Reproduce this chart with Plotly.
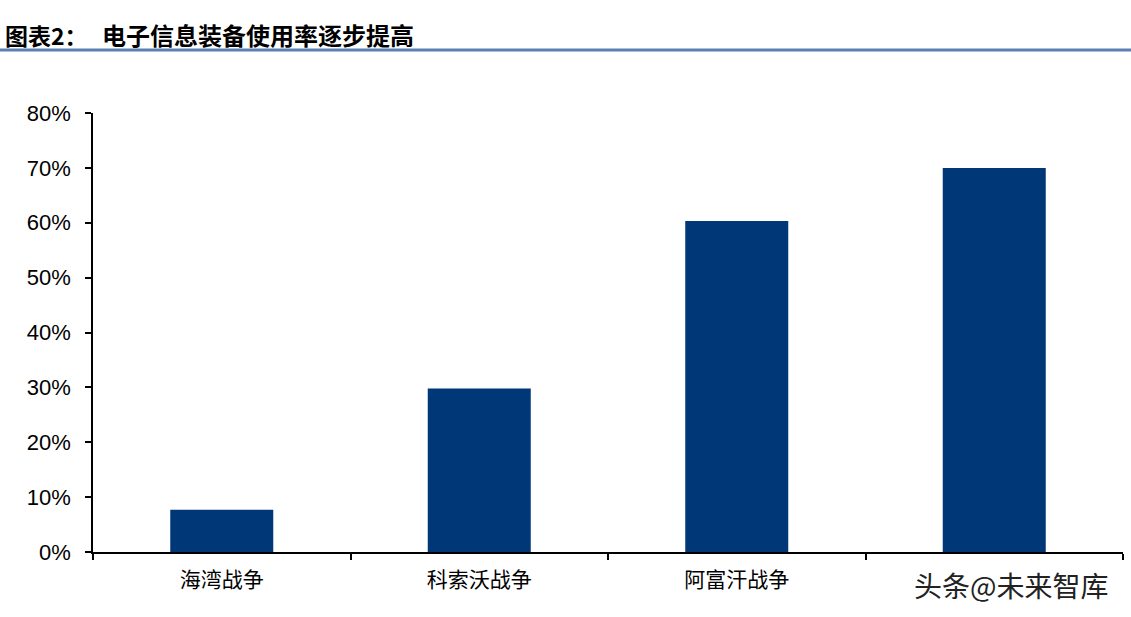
import plotly.graph_objects as go

categories = ["海湾战争", "科索沃战争", "阿富汗战争", "伊拉克战争"]
values = [0.077, 0.298, 0.603, 0.70]
y_ticks = [0, 0.1, 0.2, 0.3, 0.4, 0.5, 0.6, 0.7, 0.8]
y_tick_labels = ["0%", "10%", "20%", "30%", "40%", "50%", "60%", "70%", "80%"]

title_label = "图表2："
title_text = "电子信息装备使用率逐步提高"
watermark = "头条@未来智库"

W, H = 1131, 617
L, R, T, B = 93, 8, 113, 65
PW, PH = W - L - R, H - T - B

fig = go.Figure()
fig.add_trace(go.Bar(
    x=categories, y=values,
    marker=dict(color="#003777", line=dict(width=0)),
    width=0.4,
))

fig.update_layout(
    width=W, height=H,
    margin=dict(l=L, r=R, t=T, b=B, autoexpand=False),
    paper_bgcolor="white", plot_bgcolor="white",
    showlegend=False,
    font=dict(family="Liberation Sans, Arial, sans-serif", color="black"),
)
fig.update_yaxes(
    range=[0, 0.8], tickvals=y_ticks, ticktext=y_tick_labels,
    showgrid=False, zeroline=False,
    showline=True, linecolor="black", linewidth=1.5,
    ticks="outside", ticklen=6, tickcolor="black", tickwidth=1.5,
    tickfont=dict(size=22, family="Liberation Sans, Arial, sans-serif"),
    ticklabelstandoff=10,
)
fig.update_xaxes(
    type="category", tickson="boundaries",
    showgrid=False, zeroline=False,
    showline=True, linecolor="black", linewidth=1.5,
    ticks="outside", ticklen=6, tickcolor="black", tickwidth=1.5,
    tickfont=dict(size=21, family="Noto Sans CJK SC"),
    ticklabelstandoff=8,
    range=[-0.5, 3.5],
)

def px_x(x):
    return (x - L) / PW

def px_y(y):
    return (H - B - y) / PH

fig.add_annotation(
    text="<b>" + title_label + "</b>", xref="paper", yref="paper",
    x=px_x(3), y=px_y(35), xanchor="left", yanchor="middle",
    showarrow=False, font=dict(size=23, family="Noto Sans CJK SC", color="black"),
)
fig.add_annotation(
    text="<b>" + title_text + "</b>", xref="paper", yref="paper",
    x=px_x(100), y=px_y(35), xanchor="left", yanchor="middle",
    showarrow=False, font=dict(size=24, family="Noto Sans CJK SC", color="black"),
)
fig.add_shape(
    type="line", xref="paper", yref="paper",
    x0=px_x(0), x1=px_x(W), y0=px_y(50), y1=px_y(50),
    line=dict(color="#5b7fb3", width=3),
)
fig.add_annotation(
    text=watermark, xref="paper", yref="paper",
    x=px_x(1114), y=px_y(585), xanchor="right", yanchor="middle",
    showarrow=False, bgcolor="white", borderpad=4,
    font=dict(size=28, family="Noto Sans CJK SC", color="#222222"),
)

fig.write_html("out.html", config={"displayModeBar": False},
               post_script="document.body.style.margin='0';")
